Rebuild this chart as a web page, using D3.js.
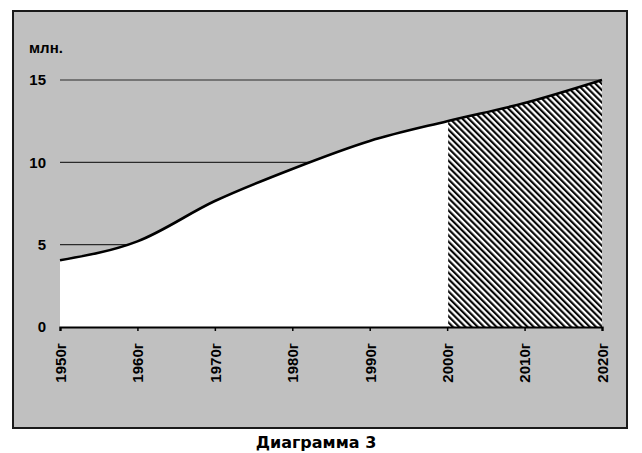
<!DOCTYPE html>
<html>
<head>
<meta charset="utf-8">
<script src="https://cdnjs.cloudflare.com/ajax/libs/d3/7.8.5/d3.min.js"></script>
<style>
  body { margin: 0; background: #fff; }
  svg text { font-family: "Liberation Sans", Arial, sans-serif; font-weight: bold; }
</style>
</head>
<body>
<div id="chart"></div>
<script>
// data
var years = [1950, 1960, 1970, 1980, 1990, 2000, 2010, 2020];
var values = [4.05, 5.2, 7.65, 9.6, 11.3, 12.5, 13.6, 15.0];
var yTicks = [0, 5, 10, 15];
var forecastFrom = 2000;
var unitLabel = "млн.";
var caption = "Диаграмма 3";

var W = 642, H = 453;
var svg = d3.select("#chart").append("svg")
    .attr("width", W).attr("height", H);

// hatch pattern, lines running down to the right
var defs = svg.append("defs");
var pat = defs.append("pattern")
    .attr("id", "hatch")
    .attr("patternUnits", "userSpaceOnUse")
    .attr("width", 4.4).attr("height", 8)
    .attr("patternTransform", "rotate(-45)");
pat.append("rect").attr("width", 4.4).attr("height", 8).attr("fill", "#fff");
pat.append("line")
    .attr("x1", 1.1).attr("y1", 0).attr("x2", 1.1).attr("y2", 8)
    .attr("stroke", "#000").attr("stroke-width", 2.1);

// gray panel
svg.append("rect")
    .attr("x", 13).attr("y", 11)
    .attr("width", 614).attr("height", 417)
    .attr("fill", "#c0c0c0")
    .attr("stroke", "#1a1a1a").attr("stroke-width", 2);

var x = d3.scaleLinear().domain([1950, 2020]).range([60, 602]);
var y = d3.scaleLinear().domain([0, 15]).range([327, 80]);

var pts = years.map(function(d, i) { return {year: d, v: values[i]}; });

// gridlines
svg.append("g")
    .selectAll("line")
    .data(yTicks.filter(function(d) { return d > 0; }))
    .enter().append("line")
    .attr("x1", x(1950)).attr("x2", x(2020))
    .attr("y1", function(d) { return y(d); })
    .attr("y2", function(d) { return y(d); })
    .attr("stroke", "#2a2a2a").attr("stroke-width", 1.2);

var curve = d3.curveMonotoneX;

var area = d3.area()
    .x(function(d) { return x(d.year); })
    .y0(y(0))
    .y1(function(d) { return y(d.v); })
    .curve(curve);

// whole area white, then hatched forecast part clipped
svg.append("path")
    .datum(pts)
    .attr("d", area)
    .attr("fill", "#fff");

defs.append("clipPath").attr("id", "fc")
    .append("rect")
    .attr("x", x(forecastFrom) + 1).attr("y", 0)
    .attr("width", x(2020) - x(forecastFrom) - 1).attr("height", H);

svg.append("path")
    .datum(pts)
    .attr("d", area)
    .attr("fill", "url(#hatch)")
    .attr("clip-path", "url(#fc)");

// curve line
svg.append("path")
    .datum(pts)
    .attr("d", d3.line()
        .x(function(d) { return x(d.year); })
        .y(function(d) { return y(d.v); })
        .curve(curve))
    .attr("fill", "none")
    .attr("stroke", "#000").attr("stroke-width", 2.6);

// x axis
var xAxis = svg.append("g")
    .attr("transform", "translate(0," + y(0) + ")")
    .call(d3.axisBottom(x).tickValues(years).tickSize(4)
        .tickFormat(function(d) { return d + "г"; }));
xAxis.select(".domain").attr("stroke", "#000").attr("stroke-width", 2.2);
xAxis.selectAll(".tick line").attr("stroke", "#000").attr("stroke-width", 1.5);
xAxis.selectAll(".tick text")
    .attr("transform", "rotate(-90)")
    .attr("x", -16).attr("y", 0).attr("dy", "0.36em")
    .attr("text-anchor", "end")
    .attr("fill", "#000")
    .style("font-size", "15px");

// y axis labels
var yAxis = svg.append("g")
    .attr("transform", "translate(60,0)")
    .call(d3.axisLeft(y).tickValues(yTicks).tickSize(0).tickPadding(14));
yAxis.select(".domain").remove();
yAxis.selectAll(".tick text").attr("fill", "#000").style("font-size", "15px");

svg.append("text")
    .attr("x", 29).attr("y", 53)
    .attr("fill", "#000")
    .style("font-size", "15px")
    .text(unitLabel);

svg.append("text")
    .attr("x", 316).attr("y", 448)
    .attr("text-anchor", "middle")
    .attr("fill", "#000")
    .style("font-family", "'DejaVu Sans', sans-serif")
    .style("font-size", "16px")
    .text(caption);
</script>
</body>
</html>
